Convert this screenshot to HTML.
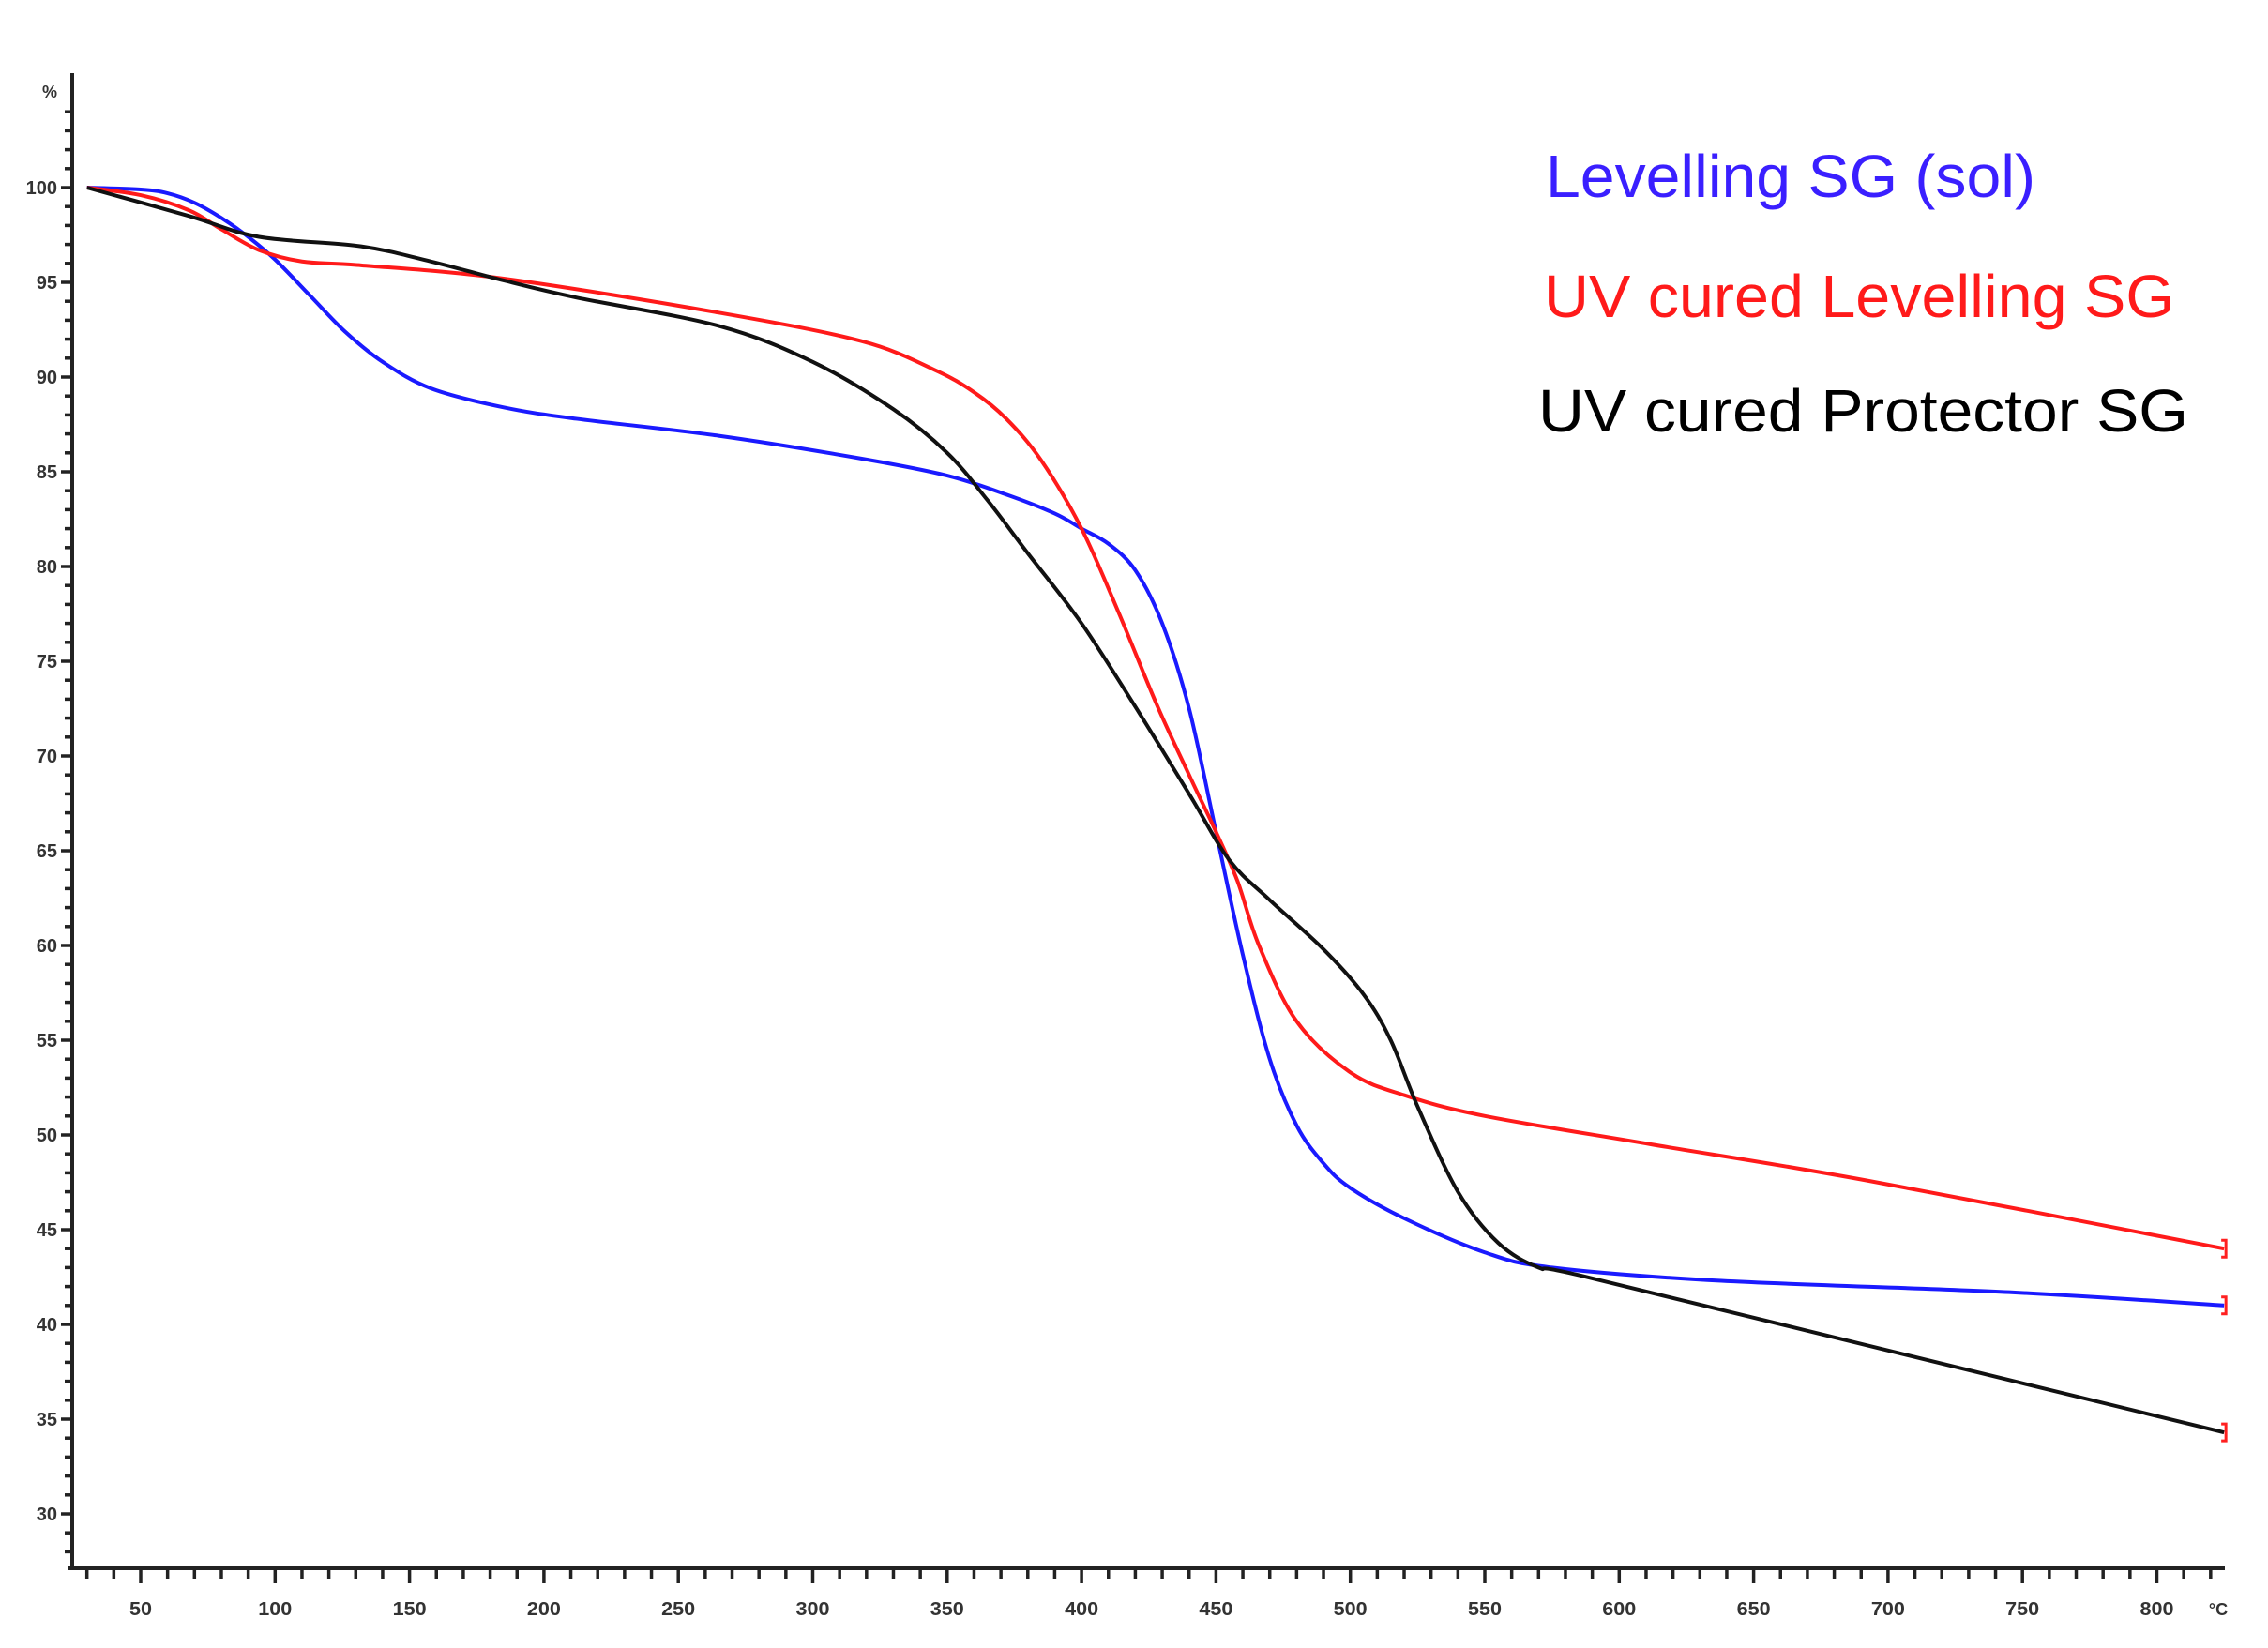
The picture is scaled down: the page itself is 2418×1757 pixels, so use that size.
<!DOCTYPE html>
<html><head><meta charset="utf-8"><style>
html,body{margin:0;padding:0;background:#fff;}
svg{display:block;}
</style></head><body>
<svg id="chart" width="2418" height="1757" viewBox="0 0 2418 1757" xmlns="http://www.w3.org/2000/svg">
<g id="axes"></g>
<g id="series"></g>
<g id="legend" font-family="Liberation Sans, sans-serif" font-size="64">
<text x="1648" y="210" fill="#3a1fff" textLength="522" lengthAdjust="spacingAndGlyphs">Levelling SG (sol)</text>
<text x="1646" y="338" fill="#ff1a1a" textLength="672" lengthAdjust="spacingAndGlyphs">UV cured Levelling SG</text>
<text x="1640" y="460" fill="#000" textLength="693" lengthAdjust="spacingAndGlyphs">UV cured Protector SG</text>
</g>
</svg>
<script>
const xTicks=[50,100,150,200,250,300,350,400,450,500,550,600,650,700,750,800];
const yTicks=[30,35,40,45,50,55,60,65,70,75,80,85,90,95,100];
const blueT=[30,50,60,70,80,90,100,113,126,140,158,185,212,265,318,350,372,390,400,410,420,430,440,450,460,470,480,490,500,520,550,575,638,745,825];
const blueV=[100,99.9,99.7,99.2,98.4,97.4,96.2,94.3,92.4,90.8,89.4,88.4,87.8,86.9,85.7,84.8,83.8,82.8,82,81.2,79.8,77,72.5,66,59.5,54,50.5,48.5,47.2,45.6,43.8,43,42.3,41.7,41];
const redT=[30,50,68,80,94,110,132,185,265,318,345,360,372,385,400,414,428,440,450,458,466,480,500,520,550,612,692,825];
const redV=[100,99.6,98.8,97.8,96.7,96.1,95.9,95.2,93.4,91.9,90.4,89.2,87.8,85.6,82,77.5,72.7,69,66,63.4,60,56,53.3,52.1,51,49.5,47.6,44];
const blackT=[30,68,94,132,158,185,212,265,300,330,350,365,380,400,420,440,455,470,490,505,515,525,540,555,570,585,692,825];
const blackV=[100,98.5,97.4,96.9,96.1,95.1,94.2,92.7,90.8,88.3,86,83.5,80.7,77,72.6,68,64.5,62.4,59.8,57.4,55,51.5,47,44.3,43,42.6,38.9,34.3];

const NS="http://www.w3.org/2000/svg";
const xs=T=>150+(T-50)*2.866;
const ys=v=>200+(100-v)*20.2;
const axisX=77, axisY=1672, xEnd=2372, yTop=78;
const ax=document.getElementById('axes');
function mk(tag,attrs,parent){const e=document.createElementNS(NS,tag);for(const k in attrs)e.setAttribute(k,attrs[k]);parent.appendChild(e);return e;}
let e=mk('line',{x1:axisX,y1:yTop,x2:axisX,y2:axisY+2,stroke:'#222','stroke-width':4},ax);


e=mk('line',{x1:axisX-4,y1:axisY,x2:xEnd,y2:axisY,stroke:'#222','stroke-width':4},ax);


for(let v=28;v<=104;v++){const y=ys(v);const major=v%5===0;
 mk('line',{x1:axisX-(major?12:8),y1:y,x2:axisX,y2:y,stroke:'#222','stroke-width':3.5},ax);}
for(let T=30;T<=820;T+=10){const x=xs(T);const major=T%50===0;
 mk('line',{x1:x,y1:axisY,x2:x,y2:axisY+(major?16:11),stroke:'#222','stroke-width':3.5},ax);}
yTicks.forEach(v=>{const t=mk('text',{x:axisX-16,y:ys(v)+7,'text-anchor':'end','font-family':'Liberation Sans Narrow, Liberation Sans, sans-serif','font-size':20,'font-weight':'bold',fill:'#333'},ax);t.textContent=v;
 
 });
let pt=mk('text',{x:axisX-16,y:104,'text-anchor':'end','font-family':'Liberation Sans, sans-serif','font-size':18,'font-weight':'bold',fill:'#333'},ax);pt.textContent='%';


xTicks.forEach(T=>{const t=mk('text',{x:xs(T),y:1722,'text-anchor':'middle','font-family':'Liberation Sans, sans-serif','font-size':20,'font-weight':'bold',fill:'#333',textLength:T>=100?36:24,lengthAdjust:'spacingAndGlyphs'},ax);t.textContent=T;
 
 });
pt=mk('text',{x:2365,y:1722,'text-anchor':'middle','font-family':'Liberation Sans, sans-serif','font-size':18,'font-weight':'bold',fill:'#333'},ax);pt.textContent='°C';



function pathFor(T,V){const p=T.map((t,i)=>[xs(t),ys(V[i])]);let d='M'+p[0][0]+','+p[0][1];
 for(let i=0;i<p.length-1;i++){const p0=p[Math.max(0,i-1)],p1=p[i],p2=p[i+1],p3=p[Math.min(p.length-1,i+2)];
  const c1=[p1[0]+(p2[0]-p0[0])/6,p1[1]+(p2[1]-p0[1])/6],c2=[p2[0]-(p3[0]-p1[0])/6,p2[1]-(p3[1]-p1[1])/6];
  d+=' C'+c1+' '+c2+' '+p2;}return d;}
const sg=document.getElementById('series');
[[blueT,blueV,'#1a1aff','series-levelling-sol'],[redT,redV,'#ff1a1a','series-uv-cured-levelling'],[blackT,blackV,'#111','series-uv-cured-protector']].forEach(s=>{
 const p=mk('path',{d:pathFor(s[0],s[1]),fill:'none',stroke:s[2],'stroke-width':4},sg);
 
 
 const lx=xs(s[0][s[0].length-1]),ly=ys(s[1][s[1].length-1]);
 mk('path',{d:`M${lx-3},${ly-9} h5 v18 h-5`,fill:'none',stroke:'#ff2020','stroke-width':3},sg);
});
</script>
</body></html>
